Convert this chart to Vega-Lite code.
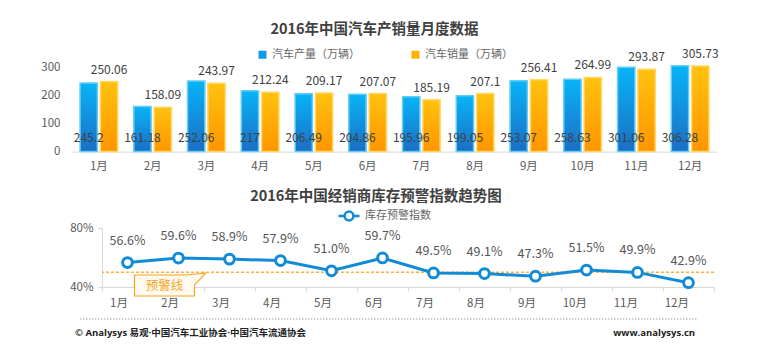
{
  "$schema": "https://vega.github.io/schema/vega-lite/v6.json",
  "background": "white",
  "padding": {"left": 40, "top": 22, "right": 5, "bottom": 5},
  "spacing": 76,
  "bounds": "flush",
  "config": {
    "view": {"stroke": null},
    "font": "Noto Sans CJK SC",
    "title": {"fontSize": 14.5, "fontWeight": "bold", "color": "#404040", "font": "Noto Sans CJK SC", "frame": "group"},
    "axis": {"labelFont": "Noto Sans CJK SC", "labelColor": "#595959", "labelFontSize": 11.5, "grid": false, "title": null},
    "legend": {"labelFont": "Noto Sans CJK SC", "labelFontSize": 11, "labelColor": "#666666", "title": null}
  },
  "resolve": {"scale": {"color": "independent", "x": "independent", "y": "independent"}, "axis": {"x": "independent", "y": "independent"}},
  "vconcat": [
    {
      "width": 615,
      "height": 89.6,
      "title": {"text": "2016年中国汽车产销量月度数据", "offset": 10, "dx": -35},
      "data": {"values": [
        {"month": "1月", "series": "汽车产量（万辆）", "value": 245.2},
        {"month": "2月", "series": "汽车产量（万辆）", "value": 161.18},
        {"month": "3月", "series": "汽车产量（万辆）", "value": 252.06},
        {"month": "4月", "series": "汽车产量（万辆）", "value": 217},
        {"month": "5月", "series": "汽车产量（万辆）", "value": 206.49},
        {"month": "6月", "series": "汽车产量（万辆）", "value": 204.86},
        {"month": "7月", "series": "汽车产量（万辆）", "value": 195.96},
        {"month": "8月", "series": "汽车产量（万辆）", "value": 199.05},
        {"month": "9月", "series": "汽车产量（万辆）", "value": 253.07},
        {"month": "10月", "series": "汽车产量（万辆）", "value": 258.63},
        {"month": "11月", "series": "汽车产量（万辆）", "value": 301.06},
        {"month": "12月", "series": "汽车产量（万辆）", "value": 306.28},
        {"month": "1月", "series": "汽车销量（万辆）", "value": 250.06},
        {"month": "2月", "series": "汽车销量（万辆）", "value": 158.09},
        {"month": "3月", "series": "汽车销量（万辆）", "value": 243.97},
        {"month": "4月", "series": "汽车销量（万辆）", "value": 212.24},
        {"month": "5月", "series": "汽车销量（万辆）", "value": 209.17},
        {"month": "6月", "series": "汽车销量（万辆）", "value": 207.07},
        {"month": "7月", "series": "汽车销量（万辆）", "value": 185.19},
        {"month": "8月", "series": "汽车销量（万辆）", "value": 207.1},
        {"month": "9月", "series": "汽车销量（万辆）", "value": 256.41},
        {"month": "10月", "series": "汽车销量（万辆）", "value": 264.99},
        {"month": "11月", "series": "汽车销量（万辆）", "value": 293.87},
        {"month": "12月", "series": "汽车销量（万辆）", "value": 305.73}
      ]},
      "encoding": {
        "x": {"field": "month", "type": "nominal", "sort": null,
              "scale": {"range": [-30, 615], "paddingInner": 0.3, "paddingOuter": 0.15},
              "axis": {"labelAngle": 0, "ticks": false, "domainColor": "#d9d9d9", "labelPadding": 9}},
        "xOffset": {"field": "series", "type": "nominal", "sort": ["汽车产量（万辆）", "汽车销量（万辆）"], "scale": {"paddingInner": 0.15}},
        "y": {"field": "value", "type": "quantitative", "scale": {"domain": [0, 320], "nice": false},
              "axis": {"values": [0, 100, 200, 300], "domain": false, "ticks": false, "labelPadding": 42}}
      },
      "layer": [
        {
          "mark": {"type": "bar"},
          "encoding": {
            "color": {"field": "series", "type": "nominal",
                      "scale": {"domain": ["汽车产量（万辆）", "汽车销量（万辆）"], "range": ["#0f9be8", "#ffb300"]},
                      "legend": {"orient": "none", "legendX": 155, "legendY": -13, "direction": "horizontal",
                                 "symbolType": "square", "symbolSize": 64, "columnPadding": 50}}
          }
        },
        {
          "transform": [{"filter": "datum.series === '汽车产量（万辆）'"}],
          "mark": {"type": "bar", "strokeWidth": 1.5, "stroke": "#62cdf7",
                   "fill": {"gradient": "linear", "x1": 0, "y1": 0, "x2": 0, "y2": 1, "stops": [{"offset": 0, "color": "#08b4f7"}, {"offset": 1, "color": "#1b6ec5"}]}}
        },
        {
          "transform": [{"filter": "datum.series === '汽车销量（万辆）'"}],
          "mark": {"type": "bar", "strokeWidth": 1.5, "stroke": "#ffd865",
                   "fill": {"gradient": "linear", "x1": 0, "y1": 0, "x2": 0, "y2": 1, "stops": [{"offset": 0, "color": "#ffc20e"}, {"offset": 1, "color": "#ff9500"}]}}
        },
        {
          "transform": [{"filter": "datum.series === '汽车产量（万辆）'"}],
          "mark": {"type": "text", "fontSize": 12, "color": "#404040"},
          "encoding": {
            "y": {"datum": 50, "type": "quantitative"},
            "text": {"field": "value", "type": "nominal"}
          }
        },
        {
          "transform": [{"filter": "datum.series === '汽车销量（万辆）'"}],
          "mark": {"type": "text", "fontSize": 12, "color": "#404040", "baseline": "bottom", "dy": -5},
          "encoding": {
            "text": {"field": "value", "type": "nominal"}
          }
        }
      ]
    },
    {
      "width": 612,
      "height": 59,
      "title": {"text": "2016年中国经销商库存预警指数趋势图", "offset": 0, "dx": -32},
      "resolve": {"scale": {"x": "independent"}, "axis": {"x": "independent"}},
      "layer": [
        {
          "data": {"values": [{"threshold": 0.5}]},
          "mark": {"type": "rule", "color": "#fbb040", "strokeDash": [3, 2], "strokeWidth": 1.5},
          "encoding": {"y": {"field": "threshold", "type": "quantitative"}}
        },
        {
          "layer": [
            {
              "data": {"name": "stock"},
              "mark": {"type": "line", "strokeWidth": 3},
              "encoding": {
                "x": {"field": "month", "type": "nominal", "sort": null},
                "y": {"field": "value", "type": "quantitative"},
                "color": {"field": "series", "type": "nominal", "scale": {"range": ["#118bd6"]},
                          "legend": {"orient": "none", "legendX": 235, "legendY": -24, "symbolType": "M-1,0L-0.42,0M0.42,0L1,0M0.42,0A0.42,0.42,0,1,1,-0.42,0A0.42,0.42,0,1,1,0.42,0",
                                     "symbolSize": 441, "symbolStrokeWidth": 2.5, "symbolFillColor": "#ffffff"}}
              }
            },
            {
              "data": {"name": "stock"},
              "mark": {"type": "point", "filled": true, "fill": "#ffffff", "stroke": "#118bd6", "strokeWidth": 3, "size": 95, "opacity": 1},
              "encoding": {
                "x": {"field": "month", "type": "nominal", "sort": null},
                "y": {"field": "value", "type": "quantitative"}
              }
            },
            {
              "data": {"name": "stock"},
              "mark": {"type": "text", "fontSize": 12.5, "color": "#555555", "dy": -22},
              "encoding": {
                "x": {"field": "month", "type": "nominal", "sort": null},
                "y": {"field": "value", "type": "quantitative"},
                "text": {"field": "value", "type": "quantitative", "format": ".1%"}
              }
            },
            {
              "data": {"values": [{"label": "预警线", "month": "1月", "value": 0.41}]},
              "mark": {"type": "point", "shape": "M-1,-0.35L0.72,-0.35L1.38,-0.42L1,-0.02L1,0.35L-1,0.35Z", "size": 3600, "filled": true, "fill": "#fffaf0", "stroke": "#f5a623", "strokeWidth": 1.2, "opacity": 1, "xOffset": 37},
              "encoding": {
                "x": {"field": "month", "type": "nominal", "sort": null},
                "y": {"field": "value", "type": "quantitative"}
              }
            },
            {
              "data": {"values": [{"label": "预警线", "month": "1月", "value": 0.41}]},
              "mark": {"type": "text", "fontSize": 12.5, "color": "#f5a623", "dx": 37},
              "encoding": {
                "x": {"field": "month", "type": "nominal", "sort": null,
                      "scale": {"paddingInner": 0, "paddingOuter": 0},
                      "axis": {"labelAngle": 0, "domainColor": "#d9d9d9", "tickColor": "#d9d9d9", "tickBand": "extent", "tickSize": 4, "labelPadding": 12}},
                "y": {"field": "value", "type": "quantitative",
                      "scale": {"domain": [0.4, 0.8], "nice": false, "zero": false},
                      "axis": {"values": [0.4, 0.6, 0.8], "format": ".0%", "domainColor": "#d9d9d9", "tickColor": "#d9d9d9", "tickSize": 4, "labelPadding": 5}},
                "text": {"field": "label"}
              }
            }
          ]
        },
        {
          "data": {"values": [{"source": "© Analysys 易观·中国汽车工业协会·中国汽车流通协会", "site": "www.analysys.cn", "lineStart": -3.6, "lineEnd": 97.2, "textStart": -4.4, "textEnd": 96.9, "lineLevel": 0.183, "textLevel": 0.088}]},
          "layer": [
            {
              "mark": {"type": "rule", "color": "#9a9a9a", "strokeDash": [1.5, 1.5], "strokeWidth": 1},
              "encoding": {
                "x": {"field": "lineStart", "type": "quantitative", "scale": {"domain": [0, 100]}, "axis": null},
                "x2": {"field": "lineEnd"},
                "y": {"field": "lineLevel", "type": "quantitative"}
              }
            },
            {
              "mark": {"type": "text", "align": "left", "font": "Open Sans, Noto Sans CJK SC", "fontSize": 9.5, "fontWeight": "bold", "color": "#222222"},
              "encoding": {
                "x": {"field": "textStart", "type": "quantitative"},
                "y": {"field": "textLevel", "type": "quantitative"},
                "text": {"field": "source"}
              }
            },
            {
              "mark": {"type": "text", "align": "right", "font": "Open Sans, Noto Sans CJK SC", "fontSize": 9.5, "fontWeight": "bold", "color": "#222222"},
              "encoding": {
                "x": {"field": "textEnd", "type": "quantitative"},
                "y": {"field": "textLevel", "type": "quantitative"},
                "text": {"field": "site"}
              }
            }
          ]
        }
      ]
    }
  ],
  "datasets": {
    "stock": [
      {"month": "1月", "series": "库存预警指数", "value": 0.566},
      {"month": "2月", "series": "库存预警指数", "value": 0.596},
      {"month": "3月", "series": "库存预警指数", "value": 0.589},
      {"month": "4月", "series": "库存预警指数", "value": 0.579},
      {"month": "5月", "series": "库存预警指数", "value": 0.51},
      {"month": "6月", "series": "库存预警指数", "value": 0.597},
      {"month": "7月", "series": "库存预警指数", "value": 0.495},
      {"month": "8月", "series": "库存预警指数", "value": 0.491},
      {"month": "9月", "series": "库存预警指数", "value": 0.473},
      {"month": "10月", "series": "库存预警指数", "value": 0.515},
      {"month": "11月", "series": "库存预警指数", "value": 0.499},
      {"month": "12月", "series": "库存预警指数", "value": 0.429}
    ]
  }
}
